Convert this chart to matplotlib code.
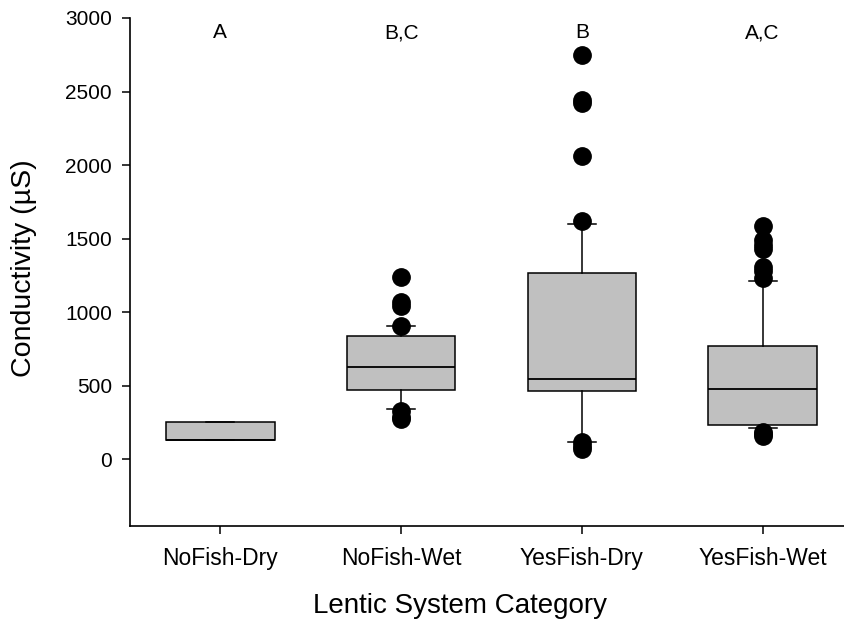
import matplotlib
matplotlib.use("Agg")
import matplotlib.pyplot as plt

plt.rcParams['font.family'] = ['Liberation Sans', 'DejaVu Sans']

categories = ['NoFish-Dry', 'NoFish-Wet', 'YesFish-Dry', 'YesFish-Wet']
q1 = [130, 475, 464, 235]
median = [130, 631, 550, 482]
q3 = [258, 842, 1267, 774]
whis_lo = [130, 342, 118, 213]
whis_hi = [258, 907, 1602, 1210]
outliers = [
    [],
    [1238, 1070, 1045, 907, 330, 290, 272],
    [2750, 2440, 2420, 2060, 1618, 120, 95, 70],
    [1588, 1490, 1460, 1430, 1310, 1280, 1230, 190, 170, 160],
]
letters = ['A', 'B,C', 'B', 'A,C']

stats = []
for i in range(len(categories)):
    stats.append({'med': median[i], 'q1': q1[i], 'q3': q3[i],
                  'whislo': whis_lo[i], 'whishi': whis_hi[i],
                  'fliers': outliers[i], 'label': categories[i]})

fig = plt.figure(figsize=(8.44, 6.29), dpi=100)
ax = fig.add_axes([0.154, 0.1642, 0.8566, 0.8072])

ax.bxp(stats, positions=[1, 2, 3, 4], widths=0.6, capwidths=0.155,
       patch_artist=True,
       boxprops=dict(facecolor='#c0c0c0', edgecolor='black', linewidth=1.1),
       medianprops=dict(color='black', linewidth=1.3),
       whiskerprops=dict(color='black', linewidth=1.1),
       capprops=dict(color='black', linewidth=1.1),
       flierprops=dict(marker='o', markerfacecolor='black',
                       markeredgecolor='black', markersize=12.5))

for i, t in enumerate(letters):
    ax.text(i + 1, 2900, t, ha='center', va='center', fontsize=15)

ax.set_xlim(0.5, 4.5)
ax.set_ylim(-450, 3000)
ax.set_yticks([0, 500, 1000, 1500, 2000, 2500, 3000])
ax.spines['top'].set_visible(False)
ax.spines['right'].set_visible(False)
ax.spines['left'].set_linewidth(1.2)
ax.spines['bottom'].set_linewidth(1.2)
ax.tick_params(axis='y', direction='out', length=6, width=1.1,
               labelsize=15, pad=7)
ax.tick_params(axis='x', direction='out', length=5.5, width=1.1,
               labelsize=16.5, pad=10)
ax.set_xlabel('Lentic System Category', fontsize=20)
ax.set_ylabel('Conductivity (µS)', fontsize=20.5)
ax.xaxis.set_label_coords(0.456, -0.132)
ax.yaxis.set_label_coords(-0.128, 0.508)

fig.savefig('out.png', dpi=100)
